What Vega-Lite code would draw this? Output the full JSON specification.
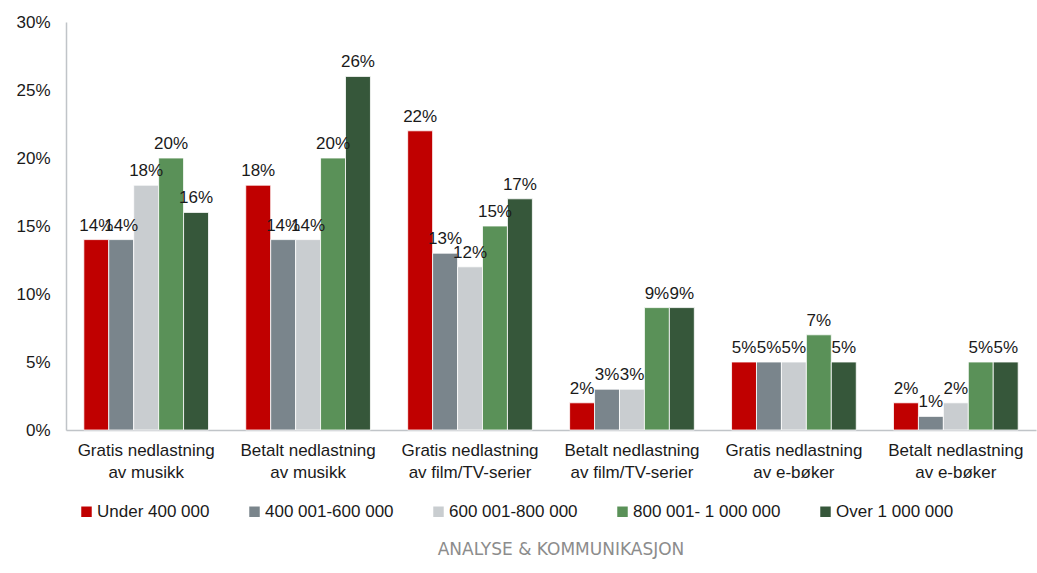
{
  "$schema": "https://vega.github.io/schema/vega-lite/v6.json",
  "width": 970,
  "height": 408,
  "autosize": "none",
  "padding": {"left": 66, "top": 22, "right": 1, "bottom": 143},
  "background": "white",
  "config": {
    "view": {"stroke": null},
    "font": "Liberation Sans",
    "text": {"font": "Liberation Sans"}
  },
  "title": {
    "text": "ANALYSE & KOMMUNIKASJON",
    "orient": "bottom",
    "anchor": "middle",
    "offset": 22,
    "dx": 10,
    "font": "DejaVu Sans",
    "fontSize": 17,
    "fontWeight": "normal",
    "color": "#8c8c8c"
  },
  "data": {
    "values": [
      {"cat": "Gratis nedlastning av musikk", "grp": "Under 400 000", "value": 0.14},
      {"cat": "Gratis nedlastning av musikk", "grp": "400 001-600 000", "value": 0.14},
      {"cat": "Gratis nedlastning av musikk", "grp": "600 001-800 000", "value": 0.18},
      {"cat": "Gratis nedlastning av musikk", "grp": "800 001- 1 000 000", "value": 0.20},
      {"cat": "Gratis nedlastning av musikk", "grp": "Over 1 000 000", "value": 0.16},
      {"cat": "Betalt nedlastning av musikk", "grp": "Under 400 000", "value": 0.18},
      {"cat": "Betalt nedlastning av musikk", "grp": "400 001-600 000", "value": 0.14},
      {"cat": "Betalt nedlastning av musikk", "grp": "600 001-800 000", "value": 0.14},
      {"cat": "Betalt nedlastning av musikk", "grp": "800 001- 1 000 000", "value": 0.20},
      {"cat": "Betalt nedlastning av musikk", "grp": "Over 1 000 000", "value": 0.26},
      {"cat": "Gratis nedlastning av film/TV-serier", "grp": "Under 400 000", "value": 0.22},
      {"cat": "Gratis nedlastning av film/TV-serier", "grp": "400 001-600 000", "value": 0.13},
      {"cat": "Gratis nedlastning av film/TV-serier", "grp": "600 001-800 000", "value": 0.12},
      {"cat": "Gratis nedlastning av film/TV-serier", "grp": "800 001- 1 000 000", "value": 0.15},
      {"cat": "Gratis nedlastning av film/TV-serier", "grp": "Over 1 000 000", "value": 0.17},
      {"cat": "Betalt nedlastning av film/TV-serier", "grp": "Under 400 000", "value": 0.02},
      {"cat": "Betalt nedlastning av film/TV-serier", "grp": "400 001-600 000", "value": 0.03},
      {"cat": "Betalt nedlastning av film/TV-serier", "grp": "600 001-800 000", "value": 0.03},
      {"cat": "Betalt nedlastning av film/TV-serier", "grp": "800 001- 1 000 000", "value": 0.09},
      {"cat": "Betalt nedlastning av film/TV-serier", "grp": "Over 1 000 000", "value": 0.09},
      {"cat": "Gratis nedlastning av e-bøker", "grp": "Under 400 000", "value": 0.05},
      {"cat": "Gratis nedlastning av e-bøker", "grp": "400 001-600 000", "value": 0.05},
      {"cat": "Gratis nedlastning av e-bøker", "grp": "600 001-800 000", "value": 0.05},
      {"cat": "Gratis nedlastning av e-bøker", "grp": "800 001- 1 000 000", "value": 0.07},
      {"cat": "Gratis nedlastning av e-bøker", "grp": "Over 1 000 000", "value": 0.05},
      {"cat": "Betalt nedlastning av e-bøker", "grp": "Under 400 000", "value": 0.02},
      {"cat": "Betalt nedlastning av e-bøker", "grp": "400 001-600 000", "value": 0.01},
      {"cat": "Betalt nedlastning av e-bøker", "grp": "600 001-800 000", "value": 0.02},
      {"cat": "Betalt nedlastning av e-bøker", "grp": "800 001- 1 000 000", "value": 0.05},
      {"cat": "Betalt nedlastning av e-bøker", "grp": "Over 1 000 000", "value": 0.05}
    ]
  },
  "encoding": {
    "x": {
      "field": "cat",
      "type": "nominal",
      "sort": null,
      "scale": {"paddingInner": 0.23, "paddingOuter": 0.11},
      "axis": {
        "title": null,
        "labelAngle": 0,
        "ticks": false,
        "domainColor": "#c0c4c8",
        "domainWidth": 1.5,
        "labelFontSize": 17,
        "labelColor": "#1a1a1a",
        "labelPadding": 12,
        "labelLineHeight": 22,
        "labelLimit": 0,
        "labelExpr": "[slice(datum.label,0,18), slice(datum.label,19)]"
      }
    },
    "xOffset": {"field": "grp", "type": "nominal", "sort": null},
    "y": {
      "field": "value",
      "type": "quantitative",
      "scale": {"domain": [0, 0.3], "nice": false},
      "axis": {
        "title": null,
        "format": ".0%",
        "values": [0, 0.05, 0.1, 0.15, 0.2, 0.25, 0.3],
        "grid": false,
        "ticks": false,
        "domainColor": "#c0c4c8",
        "domainWidth": 1.5,
        "labelFontSize": 17,
        "labelColor": "#1a1a1a",
        "labelPadding": 16
      }
    }
  },
  "layer": [
    {
      "mark": {"type": "bar", "stroke": "white", "strokeWidth": 0.8},
      "encoding": {
        "color": {
          "field": "grp",
          "type": "nominal",
          "sort": null,
          "scale": {
            "domain": ["Under 400 000", "400 001-600 000", "600 001-800 000", "800 001- 1 000 000", "Over 1 000 000"],
            "range": ["#c00000", "#7a858c", "#c9cdd0", "#5a9158", "#36573a"]
          },
          "legend": {
            "title": null,
            "orient": "none",
            "direction": "horizontal",
            "legendX": 12,
            "legendY": 481,
            "symbolType": "square",
            "symbolSize": 110,
            "symbolStrokeWidth": 0,
            "labelFontSize": 17,
            "labelColor": "#1a1a1a",
            "labelOffset": 2,
            "columnPadding": 36,
            "labelLimit": 0
          }
        }
      }
    },
    {
      "mark": {"type": "text", "baseline": "bottom", "dy": -5, "fontSize": 17, "color": "#1a1a1a"},
      "encoding": {
        "text": {"field": "value", "type": "quantitative", "format": ".0%"}
      }
    }
  ]
}
